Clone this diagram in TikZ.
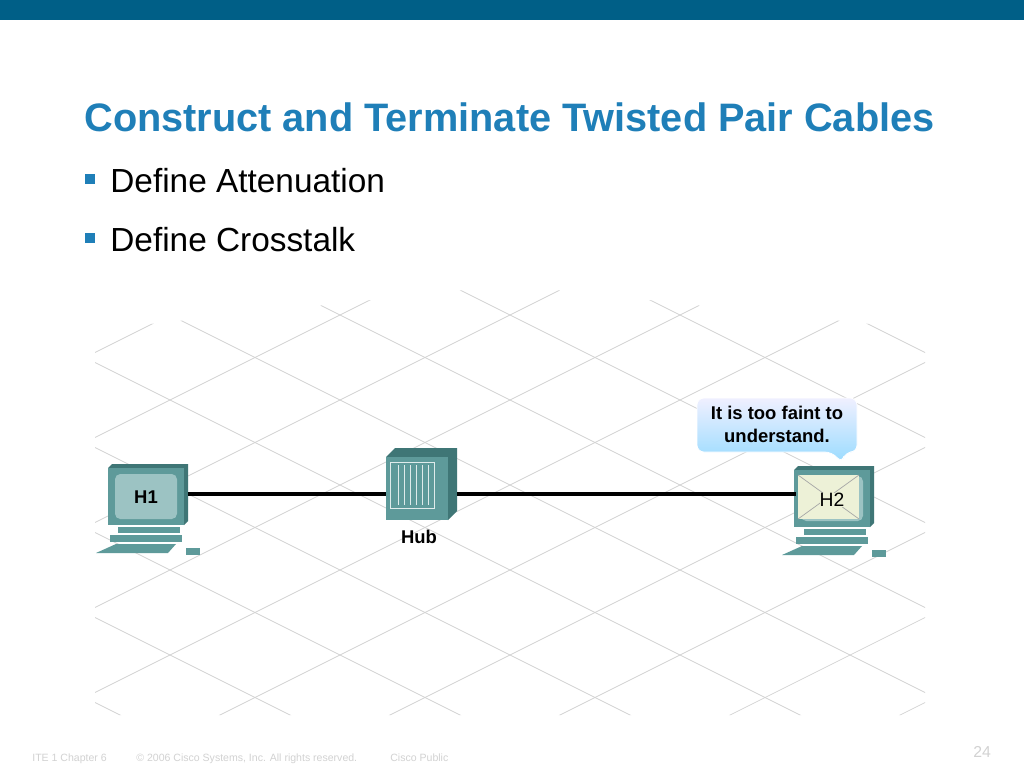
\documentclass[tikz,border=0pt]{standalone}
\usepackage{fontspec}
\setmainfont{Liberation Sans}
\usetikzlibrary{positioning}
\definecolor{ciscobar}{HTML}{005F87}
\definecolor{titleblue}{HTML}{1F7FB8}
\definecolor{devteal}{HTML}{5E9A9A}
\definecolor{devlight}{HTML}{9CC3C3}
\definecolor{devdark}{HTML}{3F7676}
\begin{document}
\begin{tikzpicture}[x=0.02cm,y=-0.02cm]
		\tikzstyle{bullet} = [anchor=base west, font=\fontsize{19}{22}\selectfont, inner sep=0pt]
		\tikzstyle{foot} = [anchor=base west, font=\fontsize{6}{7}\selectfont, text=gray!35, inner sep=0pt]
		\tikzstyle{devlabel} = [font=\bfseries\fontsize{10.5}{12}\selectfont, inner sep=0pt]
		\tikzstyle{cable} = [black, line width=1.8pt]
		\tikzstyle{gridline} = [gray!35, line width=0.4pt]
		
		% Page and bar
		\useasboundingbox (0,0) rectangle (1024,768);
		\fill[white] (0,0) rectangle (1024,768);
		\fill[ciscobar] (0,0) rectangle (1024,20);
		
		% Title and bullets
		\node (title) [anchor=base west, inner sep=0pt, text=titleblue, font=\bfseries\fontsize{22.6}{26}\selectfont] at (84,131) {Construct and Terminate Twisted Pair Cables};
		\node (b1) [bullet] at (110,192) {Define Attenuation};
		\node (b2) [bullet] at (110,251) {Define Crosstalk};
		\fill[titleblue] (85,174) rectangle (95,184);
		\fill[titleblue] (85,233) rectangle (95,243);
		
		% Floor grid
		\begin{scope}
			\clip (95,330) -- (510,285) -- (925,330) -- (925,715) -- (95,715) -- cycle;
			\foreach \i in {-6,...,6} {
				\draw[gridline] (\i*170+100,280) -- ++(900,450);
				\draw[gridline] (\i*170+920,280) -- ++(-900,450);
			}
		\end{scope}
		
		% Hub
		\fill[devdark] (386,457) -- (395,448) -- (457,448) -- (457,511) -- (448,520) -- cycle;
		\fill[devteal] (386,457) rectangle (448,520);
		\draw[white!80!devteal] (390,462) rectangle (434,508);
		\foreach \x in {398,404,...,428} \draw[white!80!devteal] (\x,465) -- (\x,505);
		\node (hub) [devlabel] at (419,537) {Hub};
		
		% Computers
		\foreach \nm/\cx/\cy in {h1/148/495, h2/834/497} {
			\fill[devdark] (\cx-40,\cy-27) -- (\cx-36,\cy-31) -- (\cx+40,\cy-31) -- (\cx+40,\cy+26) -- (\cx+36,\cy+30) -- cycle;
			\fill[devteal] (\cx-40,\cy-27) rectangle (\cx+36,\cy+30);
			\fill[devlight, rounded corners=3] (\cx-33,\cy-21) rectangle (\cx+29,\cy+24);
			\fill[devteal] (\cx-30,\cy+32) rectangle (\cx+32,\cy+38);
			\fill[devteal] (\cx-38,\cy+40) rectangle (\cx+34,\cy+47);
			\fill[devteal] (\cx-32,\cy+49) -- (\cx+28,\cy+49) -- (\cx+20,\cy+58) -- (\cx-52,\cy+58) -- cycle;
			\fill[devteal] (\cx+38,\cy+53) rectangle (\cx+52,\cy+60);
			\coordinate (\nm) at (\cx-2,\cy+1);
		}
		\fill[white!85!yellow!80!devlight] (798,475) rectangle (859,519);
		\draw[gray!70] (798,475) -- (859,519) (859,475) -- (798,519);
		\node (h1lbl) [devlabel] at (146,497) {H1};
		\node (h2lbl) [font=\fontsize{11}{12}\selectfont, inner sep=0pt, fill=white!85!yellow!80!devlight] at (832,500) {H2};
		
		% Cables
		\draw[cable] (188,494) -- (386,494);
		\draw[cable] (457,494) -- (796,494);
		
		% Speech bubble
		\shade[top color=white!60!blue!15, bottom color=blue!35!cyan!40, draw=white, rounded corners=4]
			(697,398) -- (857,398) -- (857,452) -- (845,452) -- (842,463) -- (832,452) -- (697,452) -- cycle;
		\node (msg) [align=center, font=\bfseries\fontsize{10.5}{13}\selectfont, inner sep=0pt] at (777,424) {It is too faint to\\understand.};
		
		% Footer
		\node (f1) [foot] at (32,761) {ITE 1 Chapter 6};
		\node (f2) [foot] at (136,761) {© 2006 Cisco Systems, Inc. All rights reserved.};
		\node (f3) [foot] at (390,761) {Cisco Public};
		\node (f4) [foot, font=\fontsize{9}{10}\selectfont] at (973,757) {24};
	\end{tikzpicture}
\end{document}
